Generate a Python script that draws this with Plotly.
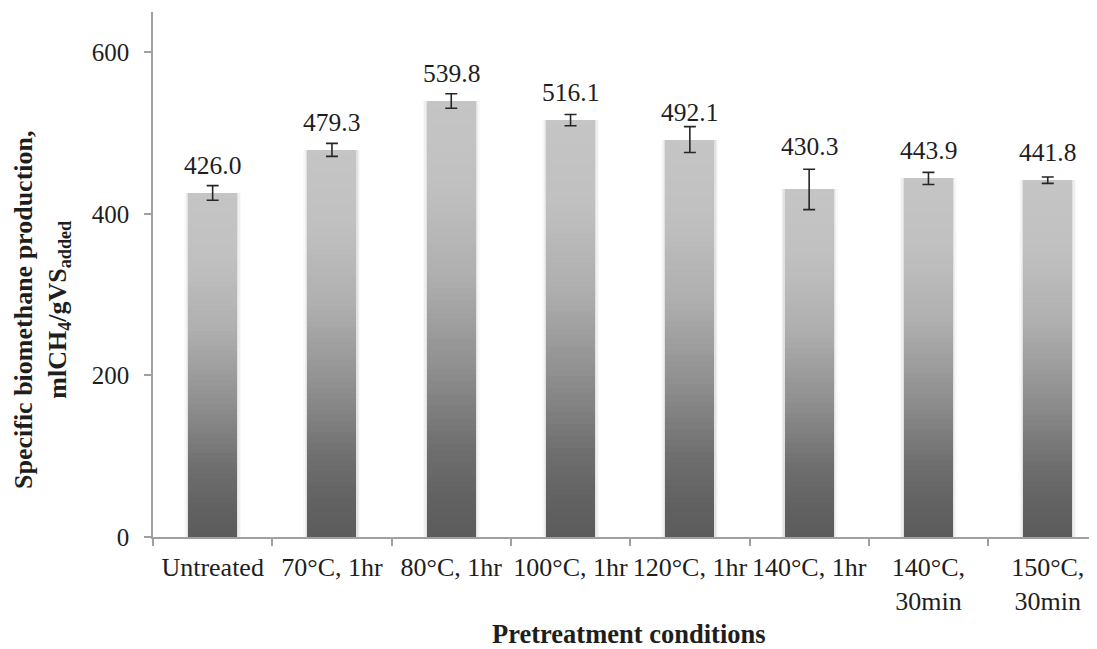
import plotly.graph_objects as go

categories = ["Untreated", "70°C, 1hr", "80°C, 1hr", "100°C, 1hr", "120°C, 1hr",
              "140°C, 1hr", "140°C,<br>30min", "150°C,<br>30min"]
values = [426.0, 479.3, 539.8, 516.1, 492.1, 430.3, 443.9, 441.8]
errors = [9, 8, 9, 7, 16, 25, 7.5, 4]
value_labels = ["426.0", "479.3", "539.8", "516.1", "492.1", "430.3", "443.9", "441.8"]
y_ticks = [0, 200, 400, 600]

# style: extra label lift (px) per bar
label_lift = [0, 0, 0, 0, 0, 15, 0, 0]

FONT = "Liberation Serif"
TXT = "#1e1e1e"

# page offset of the html body margin
OFF = 8
W, H = 1097 - OFF, 649 - OFF
ML, MT, MB = 153 - OFF, 12 - OFF, 649 - 537
PW = W - ML
PH = H - MT - MB
STEP = 119.3
BW = 0.41

# vertical gradient stops (fraction from top, grey level)
stops = [(0.0, 197), (0.2, 192), (0.4, 175), (0.6, 145), (0.8, 110), (0.92, 97), (1.0, 92)]


def grey_at(t):
    for (t0, g0), (t1, g1) in zip(stops[:-1], stops[1:]):
        if t0 <= t <= t1:
            g = int(round(g0 + (g1 - g0) * (t - t0) / (t1 - t0)))
            return f"rgb({g},{g},{g})"
    g = stops[-1][1]
    return f"rgb({g},{g},{g})"


fig = go.Figure()
# soft shadow behind bars
for extra, alpha in [(4, 0.025), (2.5, 0.04), (1.2, 0.055)]:
    fig.add_trace(go.Bar(
        x=categories, y=values, width=BW + 2 * extra / STEP,
        marker=dict(color=f"rgba(0,0,0,{alpha})", line=dict(width=0)),
        hoverinfo="skip", showlegend=False,
    ))

N = 70
for k in range(N):
    frac = 1 - k / N
    fig.add_trace(go.Bar(
        x=categories, y=[v * frac for v in values],
        width=BW,
        marker=dict(color=grey_at((k + 0.5) / N), line=dict(width=0)),
        hoverinfo="skip", showlegend=False,
    ))

fig.add_trace(go.Scatter(
    x=categories, y=values, mode="markers",
    marker=dict(size=1, color="rgba(0,0,0,0)"),
    error_y=dict(type="data", array=errors, visible=True,
                 color="#262626", thickness=1.6, width=6),
    hoverinfo="skip", showlegend=False,
))

for c, v, lab, lift in zip(categories, values, value_labels, label_lift):
    fig.add_annotation(x=c, y=v, text=lab, showarrow=False,
                       xanchor="center", yanchor="bottom", yshift=11 + lift,
                       font=dict(family=FONT, size=25.5, color=TXT))

fig.add_annotation(
    xref="paper", yref="paper", x=(42 - 153) / PW, y=(537 - 310) / PH,
    text="<b>Specific biomethane production,<br>mlCH<sub>4</sub>/gVS<sub>added</sub></b>",
    textangle=-90, showarrow=False, xanchor="center", yanchor="middle",
    font=dict(family=FONT, size=26, color=TXT),
)
fig.add_annotation(
    xref="paper", yref="paper", x=(629 - 153) / PW, y=(537 - 634) / PH,
    text="<b>Pretreatment conditions</b>", showarrow=False,
    xanchor="center", yanchor="middle",
    font=dict(family=FONT, size=26.5, color=TXT),
)

fig.update_layout(
    width=W, height=H,
    margin=dict(l=ML, r=0, t=MT, b=MB, pad=0),
    paper_bgcolor="white", plot_bgcolor="white",
    barmode="overlay", bargap=0,
    font=dict(family=FONT, size=25, color=TXT),
    xaxis=dict(
        type="category", range=[-0.5, -0.5 + PW / STEP],
        showline=True, linecolor="#a0a0a0", linewidth=1.5,
        ticks="outside", tickson="boundaries", ticklen=7, tickcolor="#a0a0a0", tickwidth=1.5,
        showgrid=False, zeroline=False, tickangle=0, ticklabelstandoff=6,
        tickfont=dict(family=FONT, size=26, color=TXT),
    ),
    yaxis=dict(
        range=[0, 650], tickvals=y_ticks,
        showline=True, linecolor="#a0a0a0", linewidth=1.5,
        ticks="outside", ticklen=7, tickcolor="#a0a0a0", tickwidth=1.5,
        showgrid=False, zeroline=False, ticklabelstandoff=10,
        tickfont=dict(family=FONT, size=25, color=TXT),
    ),
)

fig.write_html("out.html")
